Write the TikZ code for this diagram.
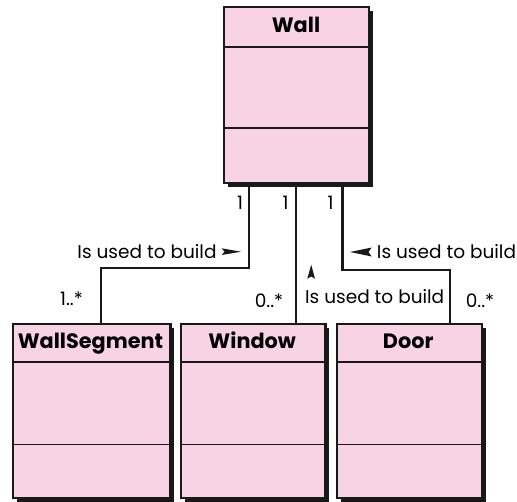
\documentclass[tikz,border=0pt]{standalone}
\usepackage{fontspec}
\setmainfont{Poppins}
\usetikzlibrary{shadows}
\definecolor{classpink}{RGB}{248,211,228}
\tikzset{
  cls/.style={draw=black!90, line width=2.2pt, fill=classpink, anchor=north west, inner sep=0pt,
    general shadow={fill=black!90, shadow xshift=4pt, shadow yshift=-4pt}},
  sepline/.style={line width=1.9pt, black!90},
  conn/.style={line width=2.1pt, black!90},
  ttl/.style={anchor=base, inner sep=0pt, font=\fontsize{20.8}{24}\selectfont\bfseries},
  lbl/.style={anchor=base, inner sep=0pt, font=\fontsize{18.5}{22}\selectfont},
  tri/.style={fill=black!90},
}
\begin{document}
\begin{tikzpicture}[x=1pt,y=-1pt]
\useasboundingbox (0,0) rectangle (517,501);
% classes
\node[cls, minimum width=145pt, minimum height=175.7pt] (wall) at (222.7,6) {};
\node[cls, minimum width=157.6pt, minimum height=174pt] (ws) at (11.7,322.7) {};
\node[cls, minimum width=144.3pt, minimum height=174pt] (win) at (180,322.7) {};
\node[cls, minimum width=145pt, minimum height=174pt] (door) at (335.7,322.7) {};
% titles
\node[ttl] (wallT) at (296,32) {Wall};
\node[ttl] (wsT) at (90.5,348) {WallSegment};
\node[ttl] (winT) at (252.2,348) {Window};
\node[ttl] (doorT) at (408.2,348) {Door};
% separators
\coordinate (wy1) at (0,47.3); \coordinate (wy2) at (0,128);
\draw[sepline] (wall.west |- wy1) -- (wall.east |- wy1);
\draw[sepline] (wall.west |- wy2) -- (wall.east |- wy2);
\coordinate (by1) at (0,362); \coordinate (by2) at (0,444.5);
\foreach \n in {ws,win,door}{
  \draw[sepline] (\n.west |- by1) -- (\n.east |- by1);
  \draw[sepline] (\n.west |- by2) -- (\n.east |- by2);
}
% connectors
\coordinate (x1) at (249.3,0);
\coordinate (k1) at (101,268.3);
\coordinate (x2) at (295.7,0);
\coordinate (x3) at (342.5,0);
\coordinate (k3) at (450,270);
\draw[conn] (wall.south -| x1) |- (k1) -- (ws.north -| k1);
\draw[conn] (wall.south -| x2) -- (win.north -| x2);
\draw[conn] (wall.south -| x3) |- (k3) -- (door.north -| k3);
% multiplicities
\node[lbl] (m1) at (240,209) {1};
\node[lbl] (m2) at (285.5,209) {1};
\node[lbl] (m3) at (330.5,209) {1};
\node[lbl] (m4) at (71.5,305) {1..*};
\node[lbl] (m5) at (269,307) {0..*};
\node[lbl] (m6) at (480,307) {0..*};
% association labels
\node[lbl] (a1) at (147,258.5) {Is used to build};
\node[lbl] (a3) at (446.5,258.5) {Is used to build};
\node[lbl] (a2) at (374.7,303.5) {Is used to build};
% direction arrows
\fill[tri] (241,251.7) -- (221.7,248.3) -- (224.5,251.7) -- (221.7,255) -- cycle;
\fill[tri] (350,252) -- (371.7,247.5) -- (368.5,252) -- (371.7,256.5) -- cycle;
\fill[tri] (311.2,264.7) -- (315,278.7) -- (311.2,276.5) -- (307.3,278.7) -- cycle;
\end{tikzpicture}
\end{document}
